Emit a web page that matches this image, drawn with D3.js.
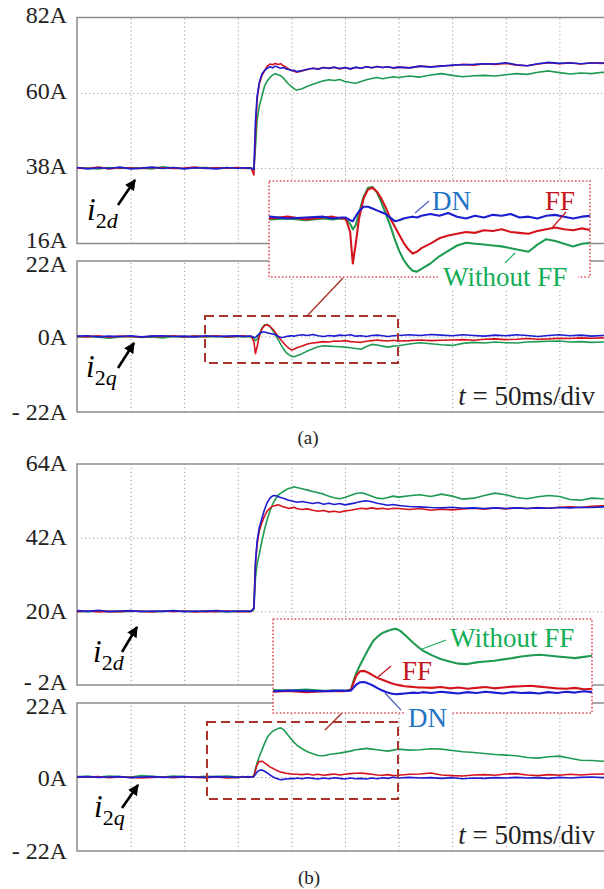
<!DOCTYPE html>
<html>
<head>
<meta charset="utf-8">
<script src="https://cdn.jsdelivr.net/npm/d3@7"></script>
<style>
  body { margin: 0; background: #fff; }
  svg text { font-family: "Liberation Serif", "Times New Roman", serif; }
</style>
</head>
<body>
<script>
// time axis, in divisions (50 ms/div)
var T = [0,0.2,0.4,0.6,0.8,1.0,1.2,1.4,1.6,1.8,2.0,2.2,2.4,2.6,2.8,3.0,3.1,3.2,3.25,3.30,3.33,3.36,3.40,3.45,3.50,3.55,3.60,3.65,3.70,3.75,3.80,3.85,3.90,3.95,4.00,4.05,4.10,4.2,4.3,4.4,4.5,4.6,4.7,4.8,4.9,5.0,5.1,5.2,5.3,5.4,5.5,5.6,5.7,5.8,5.9,6.0,6.2,6.4,6.6,6.8,7.0,7.2,7.4,7.6,7.8,8.0,8.2,8.4,8.6,8.8,9.0,9.2,9.4,9.6,9.8,10.0];

// (a) i2d
var aD_blue = [38.2,37.8,38.1,37.9,38.3,37.8,38.0,38.3,37.9,38.2,37.8,38.1,38.0,37.8,38.2,37.9,38.1,38.0,38.0,37.6,52,59,63,65.5,66.5,67.2,67.6,67.3,67.8,67.5,67.2,67.4,67.0,66.8,66.5,66.6,66.2,66.5,66.9,67.2,66.9,67.4,67.2,67.5,67.1,67.4,67.0,67.5,67.2,67.6,67.3,67.7,67.4,67.6,67.3,67.5,67.3,67.8,67.5,67.8,68.1,68.2,68.3,68.5,68.4,68.8,68.2,67.9,68.5,68.9,68.6,68.8,68.5,68.7,68.7,68.9];
var aD_red = [38.0,37.9,38.3,37.8,38.1,38.0,37.9,38.2,38.1,37.9,38.0,38.3,37.9,38.1,38.0,38.2,37.9,38.1,38.0,36.0,48,58,62.5,65,66.5,67.8,68.4,68.2,68.6,68.3,68.5,67.9,67.5,67.0,66.6,66.3,66.0,66.4,66.8,67.2,67.0,67.4,67.1,67.5,67.0,67.3,67.0,67.4,67.2,67.6,67.3,67.7,67.4,67.6,67.2,67.5,67.3,67.8,67.6,67.9,68.0,68.3,68.1,68.5,68.3,68.6,68.1,67.9,68.4,68.8,68.5,68.7,68.4,68.8,68.6,68.8];
var aD_green = [38.1,38.0,37.8,38.2,37.9,38.1,38.0,37.8,38.4,38.0,37.9,38.1,38.2,37.9,38.0,38.1,38.0,37.9,38.0,37.8,44,52,56,59,62,63.5,64.5,65.2,65.6,65.3,65.0,64.3,63.4,62.5,61.8,61.2,60.8,61.2,61.9,62.5,63.0,63.5,63.8,63.6,63.9,63.3,63.0,62.8,63.3,63.8,64.2,64.5,64.1,64.4,64.7,64.5,64.9,64.6,65.2,65.6,65.1,64.7,65.0,65.1,64.9,65.3,65.6,65.4,66.0,66.4,65.9,65.5,65.8,65.6,66.0,65.9];

// (a) i2q
var aQ_blue = [0.1,0.2,-0.1,0.1,0.0,0.2,-0.1,0.1,0.2,0.0,0.1,-0.1,0.2,0.0,0.1,0.2,0.0,0.1,0.1,-0.2,-0.3,0.2,0.8,1.3,1.3,1.1,0.9,0.7,0.5,0.1,-0.3,-0.2,0.0,0.1,0.2,0.1,0.3,0.5,0.3,0.6,0.2,0.0,0.3,0.1,0.4,0.3,0.5,0.1,0.2,0.0,0.3,0.4,0.2,0.0,0.2,0.3,0.5,0.3,0.6,0.4,0.2,0.5,0.3,0.1,0.4,0.2,0.5,0.3,0.0,0.3,0.5,0.2,0.4,0.1,0.3,0.2];
var aQ_red = [0.0,-0.1,0.2,-0.2,0.1,0.0,-0.2,0.1,0.0,0.2,-0.1,0.1,0.0,0.2,-0.1,0.1,0.2,0.0,0.0,-1.5,-5.0,-3.0,0.0,2.2,3.2,3.4,3.0,2.2,1.2,0.0,-0.9,-1.8,-2.7,-3.4,-3.9,-3.7,-3.3,-2.8,-2.2,-1.9,-1.7,-1.5,-1.6,-1.3,-1.4,-1.2,-1.5,-1.6,-1.7,-1.4,-1.2,-1.0,-1.2,-1.3,-1.1,-1.3,-1.2,-1.0,-1.2,-1.1,-1.0,-0.9,-1.1,-0.8,-0.7,-0.9,-0.8,-0.6,-0.8,-0.7,-0.5,-0.6,-0.4,-0.5,-0.4,-0.5];
var aQ_green = [-0.1,0.0,-0.2,-0.5,-0.1,0.0,-0.3,-0.1,-0.4,0.0,-0.2,0.1,-0.1,0.0,-0.2,0.0,-0.1,0.0,-0.1,-0.6,-1.2,-0.8,0.6,2.4,3.4,3.5,2.9,1.8,0.5,-0.8,-2.3,-3.6,-4.6,-5.3,-5.8,-5.9,-5.6,-5.0,-4.2,-3.6,-3.0,-2.7,-2.8,-2.9,-3.0,-3.1,-3.3,-3.5,-3.7,-2.9,-2.3,-2.5,-2.8,-3.1,-2.8,-2.7,-2.2,-1.8,-2.1,-2.4,-2.6,-2.0,-1.7,-1.9,-1.6,-1.8,-1.9,-1.6,-1.5,-1.4,-1.3,-1.6,-1.5,-1.7,-1.6,-1.5];

// (b) i2d
var bD_blue = [20.2,20.0,20.3,19.9,20.1,20.2,19.9,20.1,20.0,20.2,19.9,20.1,20.0,20.2,19.9,20.1,20.0,20.1,20.0,21,35,41,45,47.8,50.5,52.5,53.8,54.5,54.6,54.3,54.0,53.8,53.5,53.2,53.0,52.8,52.6,52.8,52.5,52.2,52.5,52.0,52.3,51.9,52.2,51.8,52.1,52.4,52.8,53.0,52.7,52.3,52.0,51.7,51.9,51.6,51.3,51.2,51.0,50.9,51.1,50.8,50.9,50.7,50.9,50.7,50.9,50.7,50.9,50.8,51.0,50.9,51.1,51.0,51.2,51.1];
var bD_red = [19.9,20.1,19.8,20.0,19.9,20.1,20.0,19.8,20.1,19.9,20.1,19.8,20.0,19.9,20.1,19.9,20.0,19.9,20.0,21,34,40,44,46.5,48.5,50.0,50.8,51.4,51.6,51.8,51.5,51.2,51.0,50.7,50.9,51.1,50.7,50.4,50.6,50.2,49.9,50.1,49.7,49.9,49.6,50.0,50.2,50.5,50.8,50.6,50.9,50.6,50.8,50.5,50.8,50.7,50.4,50.7,50.2,50.5,50.3,50.6,50.8,50.5,50.9,50.6,50.9,50.7,51.0,50.8,51.1,51.2,51.0,51.4,51.5,51.6];
var bD_green = [20.0,19.9,20.1,20.0,19.9,20.0,20.1,19.9,20.0,20.1,20.0,19.9,20.1,20.0,19.9,20.0,20.1,20.0,20.0,20.5,30,34,37,41,44.5,47.5,50.0,52.0,53.5,54.6,55.3,55.8,56.3,56.7,56.9,57.2,57.0,56.6,56.2,55.8,55.4,55.0,54.4,53.9,53.6,54.0,54.6,55.2,55.4,55.0,54.4,53.8,53.6,54.0,54.4,54.1,54.5,54.8,54.3,55.0,54.4,53.5,53.8,54.6,55.3,54.8,54.0,53.6,54.2,54.6,54.3,53.4,53.2,53.8,53.6,53.7];

// (b) i2q
var bQ_blue = [0.0,0.1,-0.1,0.0,0.1,-0.2,0.0,0.1,-0.1,0.0,0.1,0.0,-0.1,0.1,0.0,-0.1,0.0,0.1,0.0,0.1,0.8,1.5,2.0,2.1,1.7,1.2,0.6,0.1,-0.3,-0.6,-0.8,-0.7,-0.6,-0.5,-0.4,-0.5,-0.3,-0.5,-0.2,-0.4,-0.6,-0.3,-0.5,-0.2,-0.4,-0.6,-0.3,-0.5,-0.4,-0.6,-0.3,-0.5,-0.2,-0.4,-0.1,-0.3,-0.1,-0.3,-0.2,-0.4,-0.2,-0.5,-0.3,-0.4,-0.2,-0.3,-0.1,-0.3,-0.2,-0.4,-0.1,-0.3,-0.1,0.0,-0.2,0.0];
var bQ_red = [-0.1,0.0,0.1,-0.2,0.0,-0.1,-0.3,-0.1,0.0,-0.2,0.0,-0.1,-0.2,0.0,-0.3,-0.1,0.0,-0.1,0.0,0.2,2.0,3.6,4.6,4.7,4.2,3.6,3.0,2.6,2.2,1.8,1.5,1.3,1.1,1.0,0.9,0.8,0.8,0.7,0.9,0.6,0.8,0.5,0.7,0.9,0.6,0.8,1.0,1.1,1.2,1.0,0.8,0.6,0.5,0.7,0.4,0.5,0.8,0.9,1.2,0.6,0.4,0.3,0.6,0.7,0.5,0.9,1.0,0.6,0.4,0.7,0.5,0.8,0.6,0.8,0.9,1.0];
var bQ_green = [0.1,0.2,0.0,0.3,0.1,0.0,0.4,0.2,0.0,0.3,0.1,0.0,0.2,0.1,0.3,0.0,0.1,0.0,0.0,0.3,2.5,4.2,6.0,8.0,10.0,11.8,12.8,13.6,14.0,14.4,14.6,14.1,13.2,12.2,11.2,10.3,9.5,8.4,7.5,6.9,6.4,6.3,6.7,6.9,7.1,7.4,7.7,8.1,8.3,8.5,8.3,8.1,7.9,7.7,8.0,8.3,8.0,8.1,8.4,8.3,7.9,7.5,7.3,7.0,6.7,6.5,6.3,5.8,5.6,6.0,6.2,5.6,5.0,4.9,4.7,4.7];

var gridT = [1,2,3,4,5,6,7,8,9];

var C_RED = "#d4141c", C_BLUE = "#1c1cd0", C_GREEN = "#1f9a52";
var FONT = '"Liberation Serif", "Times New Roman", serif';

var svg = d3.select("body").append("svg")
  .attr("width", 604).attr("height", 889);

var x = d3.scaleLinear().domain([0, 10]).range([77, 613]);

function fmtA(v) { return v < 0 ? "- " + (-v) + "A" : v + "A"; }

// shift: nudge tick labels so the stacked panels' end labels don't collide
var panels = [
  {y: d3.scaleLinear().domain([16, 82]).range([243.5, 17.5]), ticks: [16, 38, 60, 82], shift: {16: -3, 38: -2, 60: -1, 82: -2},
   series: [[aD_green, C_GREEN], [aD_red, C_RED], [aD_blue, C_BLUE]], sub: "d", lab: [87, 220], arrow: [[118, 205], [135, 180]]},
  {y: d3.scaleLinear().domain([-22, 22]).range([412, 261]), ticks: [-22, 0, 22], shift: {22: 3, 0: 1, "-22": 0},
   series: [[aQ_green, C_GREEN], [aQ_red, C_RED], [aQ_blue, C_BLUE]], sub: "q", lab: [86, 377], arrow: [[118, 368], [134, 343]]},
  {y: d3.scaleLinear().domain([-2, 64]).range([685, 464]), ticks: [-2, 20, 42, 64], shift: {"-2": -3, 20: 0, 42: 0, 64: -1},
   series: [[bD_green, C_GREEN], [bD_red, C_RED], [bD_blue, C_BLUE]], sub: "d", lab: [93, 662], arrow: [[122, 652], [137, 627]]},
  {y: d3.scaleLinear().domain([-22, 22]).range([851, 703]), ticks: [-22, 0, 22], shift: {22: 3, 0: 1, "-22": 0},
   series: [[bQ_green, C_GREEN], [bQ_red, C_RED], [bQ_blue, C_BLUE]], sub: "q", lab: [94, 817], arrow: [[122, 808], [138, 785]]}
];

svg.append("defs").append("marker")
  .attr("id", "ah").attr("viewBox", "0 0 10 10").attr("refX", 9).attr("refY", 5)
  .attr("markerWidth", 4.2).attr("markerHeight", 4.2).attr("orient", "auto")
  .append("path").attr("d", "M0,0L10,5L0,10z").attr("fill", "#000");

panels.forEach(function(p, pi) {
  var y = p.y, top = y.range()[1], bot = y.range()[0];
  var g = svg.append("g");

  // vertical dotted grid
  g.append("g").attr("transform", "translate(0," + bot + ")")
    .call(d3.axisBottom(x).tickValues(gridT).tickSize(-(bot - top)).tickFormat(""))
    .call(function(s) {
      s.select(".domain").remove();
      s.selectAll("line").attr("stroke", "#999").attr("stroke-width", 1).attr("stroke-dasharray", "1.2,2.8");
    });
  // horizontal dotted grid
  g.append("g").attr("transform", "translate(77,0)")
    .call(d3.axisLeft(y).tickValues(p.ticks.slice(1, -1)).tickSize(-536).tickFormat(""))
    .call(function(s) {
      s.select(".domain").remove();
      s.selectAll("line").attr("stroke", "#999").attr("stroke-width", 1).attr("stroke-dasharray", "1.2,2.8");
    });

  // frame
  g.append("rect").attr("x", 77).attr("y", top).attr("width", 536).attr("height", bot - top)
    .attr("fill", "none").attr("stroke", "#8c8c8c").attr("stroke-width", 1.5);

  // tick labels
  g.append("g").attr("transform", "translate(77,0)")
    .call(d3.axisLeft(y).tickValues(p.ticks).tickSize(0).tickPadding(10).tickFormat(fmtA))
    .call(function(s) {
      s.select(".domain").remove();
      s.selectAll("text").attr("font-family", FONT).attr("font-size", 24).attr("fill", "#222")
        .attr("dy", function(d) { return (7 + (p.shift[d] || 0)) + "px"; });
    });

  // traces
  p.series.forEach(function(sr) {
    var line = d3.line().x(function(d, i) { return x(T[i]); }).y(function(d) { return y(d); });
    g.append("path").attr("d", line(sr[0])).attr("fill", "none")
      .attr("stroke", sr[1]).attr("stroke-width", 1.6).attr("stroke-linejoin", "round");
  });

  // i_2d / i_2q label
  var t = g.append("text").attr("x", p.lab[0]).attr("y", p.lab[1]).attr("font-family", FONT).attr("fill", "#000");
  t.append("tspan").attr("font-size", 31).attr("font-style", "italic").text("i");
  t.append("tspan").attr("font-size", 22).attr("dy", 8).text("2");
  t.append("tspan").attr("font-size", 22).attr("font-style", "italic").text(p.sub);
  g.append("line").attr("x1", p.arrow[0][0]).attr("y1", p.arrow[0][1])
    .attr("x2", p.arrow[1][0]).attr("y2", p.arrow[1][1])
    .attr("stroke", "#000").attr("stroke-width", 2.6).attr("marker-end", "url(#ah)");

  if (pi % 2 === 1) {
    var tt = g.append("text").attr("x", 595).attr("y", bot - 7).attr("text-anchor", "end")
      .attr("font-family", FONT).attr("font-size", 27).attr("fill", "#222");
    tt.append("tspan").attr("font-style", "italic").text("t");
    tt.append("tspan").text(" = 50ms/div");
  }
});

svg.append("text").attr("x", 308).attr("y", 444).attr("text-anchor", "middle")
  .attr("font-family", FONT).attr("font-size", 19).attr("fill", "#222").text("(a)");
svg.append("text").attr("x", 309).attr("y", 884).attr("text-anchor", "middle")
  .attr("font-family", FONT).attr("font-size", 19).attr("fill", "#222").text("(b)");

// zoomed insets
var insets = [
  {src: panels[1], box: [205, 316, 398, 363], conn: [[307, 316], [343, 278]],
   rect: [269, 181, 590, 277], xd: [2.39, 5.99], yd: [-6.5, 4.16],
   labels: [
     {t: "DN", c: "#1f74c4", x: 432, y: 210, lead: [[415, 213], [429, 201]], lc: "#5060c0"},
     {t: "FF", c: "#c4141c", x: 545, y: 210, lead: [[552, 228], [566, 212]], lc: "#c4141c"},
     {t: "Without FF", c: "#12ad55", x: 443, y: 286, lead: [[505, 263], [515, 253]], lc: "#12ad55", bg: [438, 265, 140, 24]}
   ]},
  {src: panels[3], box: [207, 722, 398, 799], conn: [[325, 730], [342, 713]],
   rect: [273, 619, 592, 713], xd: [2.43, 5.99], yd: [-5.2, 16.9],
   labels: [
     {t: "Without FF", c: "#12ad55", x: 450, y: 647, lead: [[422, 649], [446, 640]], lc: "#12ad55"},
     {t: "FF", c: "#c4141c", x: 402, y: 680, lead: [[378, 677], [391, 666]], lc: "#c4141c"},
     {t: "DN", c: "#1f74c4", x: 408, y: 727, lead: [[385, 693], [401, 710]], lc: "#5060c0", bg: [404, 704, 48, 26]}
   ]}
];

insets.forEach(function(s, k) {
  var b = s.box, r = s.rect;
  svg.append("rect").attr("x", b[0]).attr("y", b[1]).attr("width", b[2] - b[0]).attr("height", b[3] - b[1])
    .attr("fill", "none").attr("stroke", "#a8342c").attr("stroke-width", 2).attr("stroke-dasharray", "9,5");
  svg.append("line").attr("x1", s.conn[0][0]).attr("y1", s.conn[0][1]).attr("x2", s.conn[1][0]).attr("y2", s.conn[1][1])
    .attr("stroke", "#a8342c").attr("stroke-width", 1.4);

  var ix = d3.scaleLinear().domain(s.xd).range([r[0], r[2]]);
  var iy = d3.scaleLinear().domain(s.yd).range([r[3], r[1]]);
  svg.append("clipPath").attr("id", "clip" + k).append("rect")
    .attr("x", r[0]).attr("y", r[1]).attr("width", r[2] - r[0]).attr("height", r[3] - r[1]);
  svg.append("rect").attr("x", r[0]).attr("y", r[1]).attr("width", r[2] - r[0]).attr("height", r[3] - r[1])
    .attr("fill", "#fff");
  var ig = svg.append("g").attr("clip-path", "url(#clip" + k + ")");
  s.src.series.forEach(function(sr) {
    var line = d3.line().x(function(d, i) { return ix(T[i]); }).y(function(d) { return iy(d); });
    ig.append("path").attr("d", line(sr[0])).attr("fill", "none")
      .attr("stroke", sr[1]).attr("stroke-width", 2.1).attr("stroke-linejoin", "round");
  });
  svg.append("rect").attr("x", r[0]).attr("y", r[1]).attr("width", r[2] - r[0]).attr("height", r[3] - r[1])
    .attr("fill", "none").attr("stroke", "#e0505a").attr("stroke-width", 1.6).attr("stroke-dasharray", "1.6,2");

  s.labels.forEach(function(l) {
    svg.append("line").attr("x1", l.lead[0][0]).attr("y1", l.lead[0][1]).attr("x2", l.lead[1][0]).attr("y2", l.lead[1][1])
      .attr("stroke", l.lc).attr("stroke-width", 1.2);
    if (l.bg) {
      svg.append("rect").attr("x", l.bg[0]).attr("y", l.bg[1]).attr("width", l.bg[2]).attr("height", l.bg[3]).attr("fill", "#fff");
    }
    svg.append("text").attr("x", l.x).attr("y", l.y).attr("font-family", FONT).attr("font-size", 27)
      .attr("fill", l.c).text(l.t);
  });
});
</script>
</body>
</html>
